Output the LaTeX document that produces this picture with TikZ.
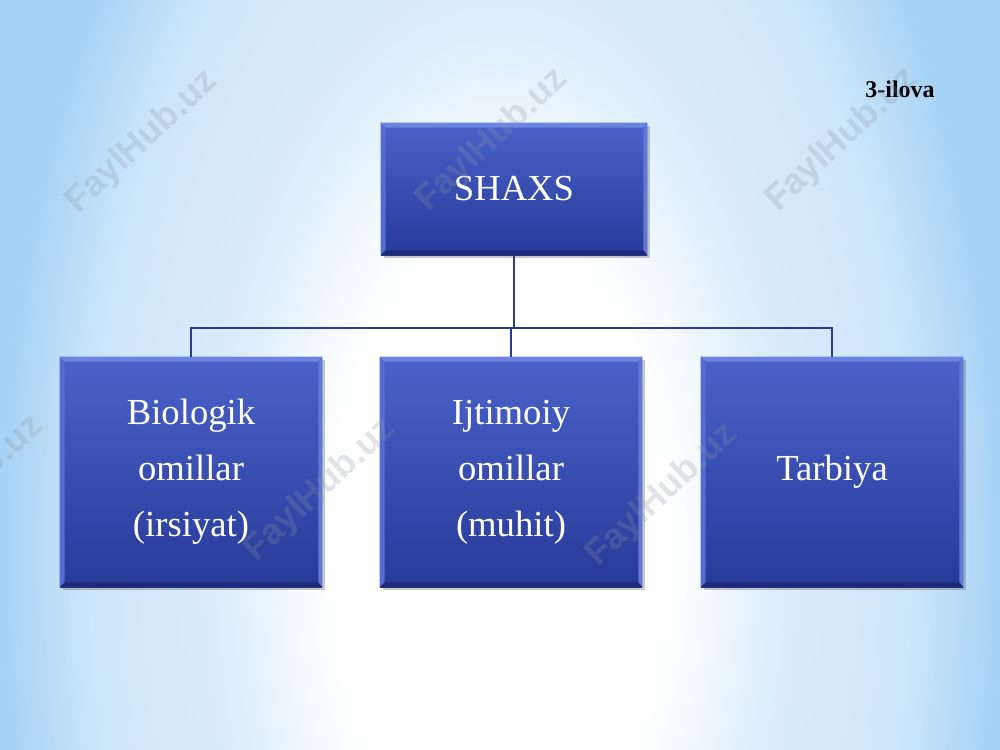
\documentclass[tikz,border=0pt]{standalone}
\usepackage{fontspec}
\setmainfont{Liberation Serif}
\newfontfamily\wmfont{Liberation Sans}
\usetikzlibrary{shadows}
\definecolor{bgmid}{RGB}{216,236,251}
\definecolor{bgmid2}{RGB}{204,230,250}
\definecolor{bgblue}{RGB}{166,210,245}
\definecolor{boxtop}{RGB}{74,98,202}
\definecolor{boxbot}{RGB}{40,58,152}
\definecolor{linecol}{RGB}{44,60,148}
\definecolor{bevtop}{RGB}{108,132,224}
\definecolor{bevleft}{RGB}{84,108,210}
\definecolor{bevright}{RGB}{96,120,214}
\definecolor{bevbot}{RGB}{30,42,120}
\definecolor{wmcol}{RGB}{140,150,165}
\pgfdeclareradialshading{bgshade}{\pgfpoint{0bp}{0bp}}{color(0bp)=(white); color(8.5bp)=(white); color(14.5bp)=(bgmid); color(20.5bp)=(bgmid2); color(25bp)=(bgblue); color(50bp)=(bgblue)}
\tikzset{
  orgbox/.style={draw=none, top color=boxtop, bottom color=boxbot, inner sep=0pt,
    drop shadow={shadow xshift=2pt, shadow yshift=-2.5pt, opacity=0.3, fill=black!70}},
  boxtext/.style={text=white, font=\fontsize{27.5}{42}\selectfont, align=center},
  conn/.style={draw=linecol, line width=1.4pt},
  wm/.style={font=\wmfont\bfseries\fontsize{27}{27}\selectfont, text=wmcol, text opacity=0.25, rotate=43, inner sep=0pt},
}
\newcommand\bevelbox[1]{%
  \fill[bevtop] (#1.north west) -- (#1.north east) -- ([shift={(-5,5)}]#1.north east) -- ([shift={(5,5)}]#1.north west) -- cycle;
  \fill[bevleft] (#1.north west) -- ([shift={(5,5)}]#1.north west) -- ([shift={(5,-5)}]#1.south west) -- (#1.south west) -- cycle;
  \fill[bevright] (#1.north east) -- ([shift={(-4,5)}]#1.north east) -- ([shift={(-4,-5)}]#1.south east) -- (#1.south east) -- cycle;
  \fill[bevbot] (#1.south west) -- ([shift={(5,-5)}]#1.south west) -- ([shift={(-4,-5)}]#1.south east) -- (#1.south east) -- cycle;
}
\begin{document}
\begin{tikzpicture}[x=0.75pt,y=-0.75pt]
\useasboundingbox (0,0) rectangle (1000,750);
\begin{scope}
\clip (0,0) rectangle (1000,750);
\path[shading=bgshade] (0,-400) rectangle (1000,1500);
\end{scope}

\node[orgbox, minimum width=199.5pt, minimum height=99pt] (shaxs) at (514,189) {};
\node[orgbox, minimum width=196.5pt, minimum height=172.5pt] (b1) at (191,472) {};
\node[orgbox, minimum width=196.5pt, minimum height=172.5pt] (b2) at (511,472) {};
\node[orgbox, minimum width=196.5pt, minimum height=172.5pt] (b3) at (832,472) {};
\bevelbox{shaxs}\bevelbox{b1}\bevelbox{b2}\bevelbox{b3}
\node[boxtext] (t0) at (shaxs.center) {SHAXS};
\node[boxtext] (t1) at (b1.center) {Biologik\\omillar\\(irsiyat)};
\node[boxtext] (t2) at (b2.center) {Ijtimoiy\\omillar\\(muhit)};
\node[boxtext] (t3) at (b3.center) {Tarbiya};

\coordinate (bus) at (514,328);
\draw[conn] (shaxs.south) -- (bus);
\draw[conn] (b1.north) |- (bus);
\draw[conn] (b3.north) |- (bus);
\draw[conn] (b2.north) -- (b2.north |- bus);

\node[font=\bfseries\fontsize{18}{20}\selectfont] (ilova) at (900,89) {3-ilova};

\node[wm] (w1) at (142,142) {FaylHub.uz};
\node[wm] (w2) at (492,140) {FaylHub.uz};
\node[wm] (w3) at (842,140) {FaylHub.uz};
\node[wm] (w4) at (-32,487) {FaylHub.uz};
\node[wm] (w5) at (320,490) {FaylHub.uz};
\node[wm] (w6) at (662,495) {FaylHub.uz};
\end{tikzpicture}
\end{document}
